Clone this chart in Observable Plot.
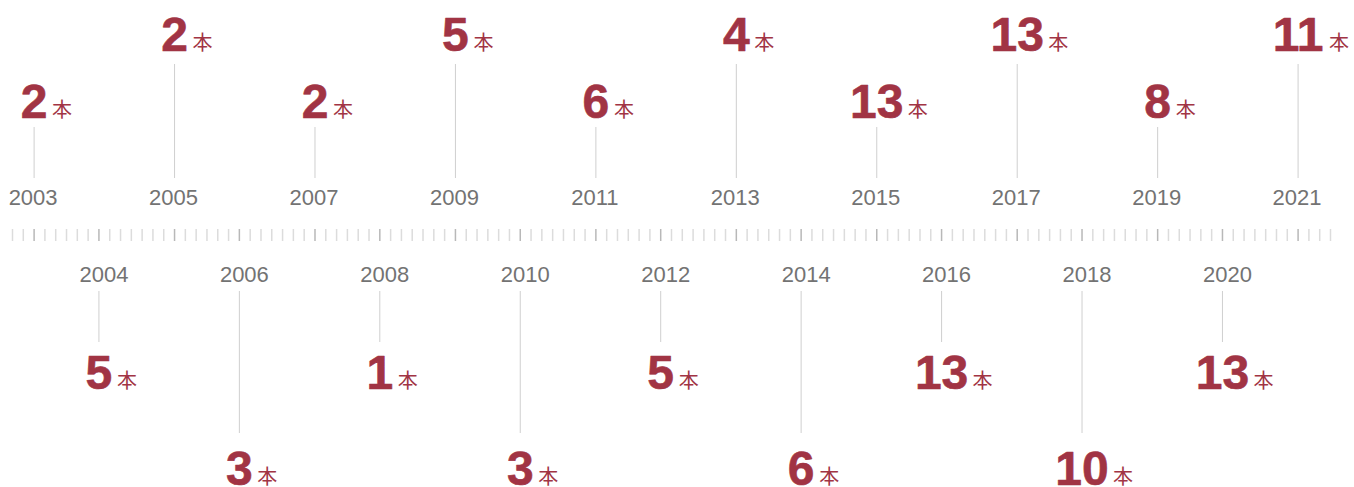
<!DOCTYPE html>
<html>
<head>
<meta charset="utf-8">
<script src="https://cdn.jsdelivr.net/npm/d3@7"></script>
<script src="https://cdn.jsdelivr.net/npm/@observablehq/plot@0.6"></script>
<style>
  html, body { margin: 0; padding: 0; background: #fff; }
  #chart svg { display: block; }
</style>
</head>
<body>
<div id="chart"></div>
<script>
// ---- data ----
const years  = [2003, 2004, 2005, 2006, 2007, 2008, 2009, 2010, 2011, 2012,
                2013, 2014, 2015, 2016, 2017, 2018, 2019, 2020, 2021];
const counts = [2, 5, 2, 3, 2, 1, 5, 3, 6, 5, 4, 6, 13, 13, 13, 10, 8, 13, 11];
const unitLabel = "本";
const tickCount = 123; // small ticks along the timeline band

// ---- layout (vertical tiers, in px on an identity-like y scale) ----
const W = 1354, H = 487;
const L = {
  bandTop: 229, bandBottom: 241,
  topYear: 204, topStemEnd: 178,
  topStemStart: {low: 127, high: 64},
  topNum: {low: 117, high: 50},
  botYear: 281, botStemStart: 291,
  botStemEnd: {low: 342, high: 433},
  botNum: {low: 388, high: 484}
};

// position of each year along the tick band (in tick units)
const pos = (i) => 2 + 6.5 * i - (i % 2 === 1 ? 0.5 : 0);

const rows = years.map((year, i) => {
  const top = i % 2 === 0;
  const tier = (i % 4 === 0 || i % 4 === 1) ? "low" : "high";
  return {
    year, n: counts[i], x: pos(i), top, tier,
    digits: String(counts[i]).length,
    yearY: top ? L.topYear : L.botYear,
    s1: top ? L.topStemStart[tier] : L.botStemStart,
    s2: top ? L.topStemEnd : L.botStemEnd[tier],
    numY: top ? L.topNum[tier] : L.botNum[tier]
  };
});

const red = "#a13444";
const gray = "#737373";
const numFont = "'Liberation Sans', Arial, Helvetica, sans-serif";
const cjkFont = "'Noto Sans CJK JP', 'Noto Sans CJK SC', sans-serif";

const tickIdx = d3.range(tickCount);
const yearTicks = new Set(rows.map(r => r.x));

const unitMark = (data, dx) => Plot.text(data, {
  x: "x", y: "numY", text: () => unitLabel, lineAnchor: "bottom", dx, dy: -1,
  textAnchor: "start", fill: red, fontSize: 20, fontFamily: cjkFont
});

const chart = Plot.plot({
  width: W, height: H,
  margin: 0,
  x: {domain: [0, tickCount - 1], range: [12, 1330], axis: null},
  y: {domain: [0, H], range: [0, H], axis: null},
  style: {background: "#fff"},
  marks: [
    // tick band
    Plot.ruleX(tickIdx.filter(t => !yearTicks.has(t)), {
      x: d => d, y1: L.bandTop, y2: L.bandBottom, stroke: "#dcdcdc", strokeWidth: 1.5
    }),
    Plot.ruleX(rows, {
      x: "x", y1: L.bandTop, y2: L.bandBottom, stroke: "#b8b8b8", strokeWidth: 1.5
    }),
    // stems
    Plot.ruleX(rows, {x: "x", y1: "s1", y2: "s2", stroke: "#cfcfcf", strokeWidth: 1}),
    // year labels (top row)
    Plot.text(rows.filter(d => d.top), {
      x: "x", y: "yearY", text: d => String(d.year), lineAnchor: "bottom", dx: -1,
      textAnchor: "middle", fill: gray, fontSize: 22, fontFamily: numFont
    }),
    // year labels (bottom row)
    Plot.text(rows.filter(d => !d.top), {
      x: "x", y: "yearY", text: d => String(d.year), lineAnchor: "bottom", dx: 5,
      textAnchor: "middle", fill: gray, fontSize: 22, fontFamily: numFont
    }),
    // numbers
    Plot.text(rows, {
      x: "x", y: "numY", text: d => String(d.n), lineAnchor: "bottom",
      textAnchor: "middle", fill: red, fontSize: 48, fontWeight: "bold", fontFamily: numFont,
      stroke: red, strokeWidth: 0.6
    }),
    // unit after the numbers
    unitMark(rows.filter(d => d.digits === 1), 18),
    unitMark(rows.filter(d => d.digits === 2), 31)
  ]
});

document.getElementById("chart").appendChild(chart);
</script>
</body>
</html>
